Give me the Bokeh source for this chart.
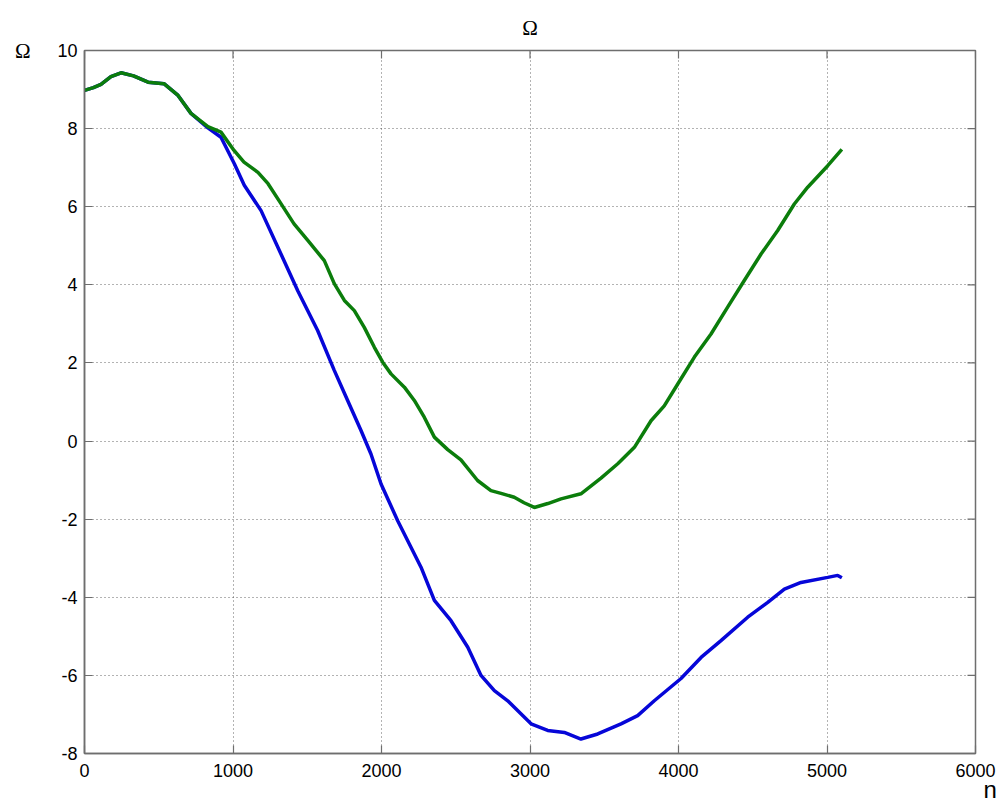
import math
from bokeh.plotting import figure
from bokeh.models import LinearAxis, FixedTicker, Range1d, Label
from bokeh.embed import file_html
from bokeh.resources import INLINE

# ---- data ----
green_n = [0, 60, 111, 178, 246, 330, 428, 535, 630, 717, 831, 919, 1007, 1074, 1168, 1236, 1323,
           1411, 1505, 1615, 1682, 1750, 1817, 1884, 1952, 2008, 2064, 2154, 2221, 2288, 2356,
           2446, 2535, 2647, 2737, 2805, 2894, 2960, 3029, 3120, 3209, 3343, 3478, 3591, 3703,
           3815, 3904, 3995, 4107, 4219, 4331, 4443, 4556, 4668, 4780, 4870, 5005, 5100]
green_w = [8.98, 9.05, 9.13, 9.33, 9.43, 9.35, 9.19, 9.15, 8.85, 8.39, 8.05, 7.91, 7.44, 7.14, 6.88, 6.59, 6.08,
           5.56, 5.13, 4.62, 4.03, 3.60, 3.34, 2.91, 2.40, 2.02, 1.72, 1.38, 1.04, 0.61, 0.10,
           -0.22, -0.48, -1.01, -1.27, -1.34, -1.44, -1.58, -1.70, -1.60, -1.48, -1.35, -0.95, -0.58, -0.16,
           0.52, 0.90, 1.46, 2.15, 2.74, 3.43, 4.11, 4.79, 5.39, 6.07, 6.50, 7.05, 7.47]

blue_n = [0, 60, 111, 178, 246, 330, 428, 535, 630, 717, 831, 919, 1009, 1076, 1189, 1323, 1436,
          1570, 1682, 1772, 1862, 1929, 1997, 2109, 2266, 2356, 2468, 2581, 2670,
          2760, 2850, 3007, 3119, 3231, 3343, 3456, 3613, 3725, 3837, 4017, 4152, 4286,
          4466, 4601, 4713, 4825, 5005, 5072, 5100]
blue_w = [8.98, 9.05, 9.13, 9.33, 9.43, 9.35, 9.19, 9.15, 8.85, 8.39, 8.02, 7.78, 7.10, 6.55, 5.90, 4.79, 3.85,
          2.83, 1.81, 1.04, 0.27, -0.33, -1.10, -2.04, -3.23, -4.08, -4.60, -5.28, -6.00,
          -6.39, -6.65, -7.24, -7.41, -7.46, -7.63, -7.50, -7.24, -7.03, -6.65, -6.08, -5.54, -5.11,
          -4.51, -4.13, -3.79, -3.62, -3.49, -3.44, -3.50]

x_ticks = [0, 1000, 2000, 3000, 4000, 5000, 6000]
y_ticks = [-8, -6, -4, -2, 0, 2, 4, 6, 8, 10]
y_tick_labels = ["-8", "-6", "-4", "-2", "0", "2", "4", "6", "8", "10"]

title_text = "Ω"
ylabel_text = "Ω"
xlabel_text = "n"

AX = "#6e6e6e"
FONT = "Liberation Sans"

p = figure(width=1001, height=802, output_backend="svg", toolbar_location=None,
           x_range=Range1d(x_ticks[0], x_ticks[-1]), y_range=Range1d(y_ticks[0], y_ticks[-1]),
           min_border_left=84, min_border_right=26, min_border_top=50, min_border_bottom=49,
           x_axis_location=None, y_axis_location=None)
p.outline_line_color = AX
p.outline_line_width = 1.5
p.background_fill_color = "white"
p.border_fill_color = "white"

# title
p.title.text = title_text
p.title.align = "center"
p.title.text_font = "Liberation Serif"
p.title.text_font_size = "21px"
p.title.text_font_style = "normal"
p.title.text_color = "black"
p.title.standoff = 21

xt = FixedTicker(ticks=x_ticks)
yt = FixedTicker(ticks=y_ticks)

def style(ax):
    ax.axis_line_color = AX
    ax.axis_line_width = 1.5
    ax.major_tick_line_color = AX
    ax.major_tick_line_width = 1.2
    ax.major_tick_in = 8
    ax.major_tick_out = 0
    ax.minor_tick_in = 0
    ax.minor_tick_out = 0
    ax.major_label_text_font = FONT
    ax.major_label_text_font_size = "18px"
    ax.major_label_text_color = "black"

xb = LinearAxis(ticker=xt); style(xb); xb.major_label_standoff = 10
yl = LinearAxis(ticker=yt); style(yl); yl.major_label_standoff = 7
yl.major_label_overrides = {t: s for t, s in zip(y_ticks, y_tick_labels)}
p.add_layout(xb, "below")
p.add_layout(yl, "left")

# horizontal y label "Ω" at the top-left, as a label of an outer axis
ylab = LinearAxis(ticker=FixedTicker(ticks=[y_ticks[-1]]))
ylab.axis_line_color = None
ylab.major_tick_line_color = None
ylab.minor_tick_line_color = None
ylab.major_label_overrides = {y_ticks[-1]: ylabel_text}
ylab.major_label_text_font = "Liberation Serif"
ylab.major_label_text_font_size = "21px"
ylab.major_label_text_color = "black"
ylab.major_label_standoff = 18
p.add_layout(ylab, "left")

# x label "n" at the lower right, below the "6000" tick label
xlab = Label(x=6098, y=-8.92, text=xlabel_text, text_font=FONT, text_font_size="24px",
             text_color="black", text_align="center", text_baseline="middle")
p.add_layout(xlab, "right")

p.xgrid.ticker = xt
p.ygrid.ticker = yt
for g in (p.xgrid, p.ygrid):
    g.grid_line_color = "#333333"
    g.grid_line_alpha = 0.75
    g.grid_line_dash = "1 3"
    g.grid_line_width = 1

# inward tick marks on the top and right edges of the box (half of each dash is clipped)
p.scatter(x_ticks, [y_ticks[-1]] * len(x_ticks), marker="dash", size=16, angle=math.pi / 2,
          line_color=AX, line_width=1.2)
p.scatter([x_ticks[-1]] * len(y_ticks), y_ticks, marker="dash", size=16,
          line_color=AX, line_width=1.2)

p.line(blue_n, blue_w, line_color="#0606d8", line_width=3.5)
p.line(green_n, green_w, line_color="#0b7d0b", line_width=3.5)

open("out.html", "w").write(file_html(p, INLINE))
